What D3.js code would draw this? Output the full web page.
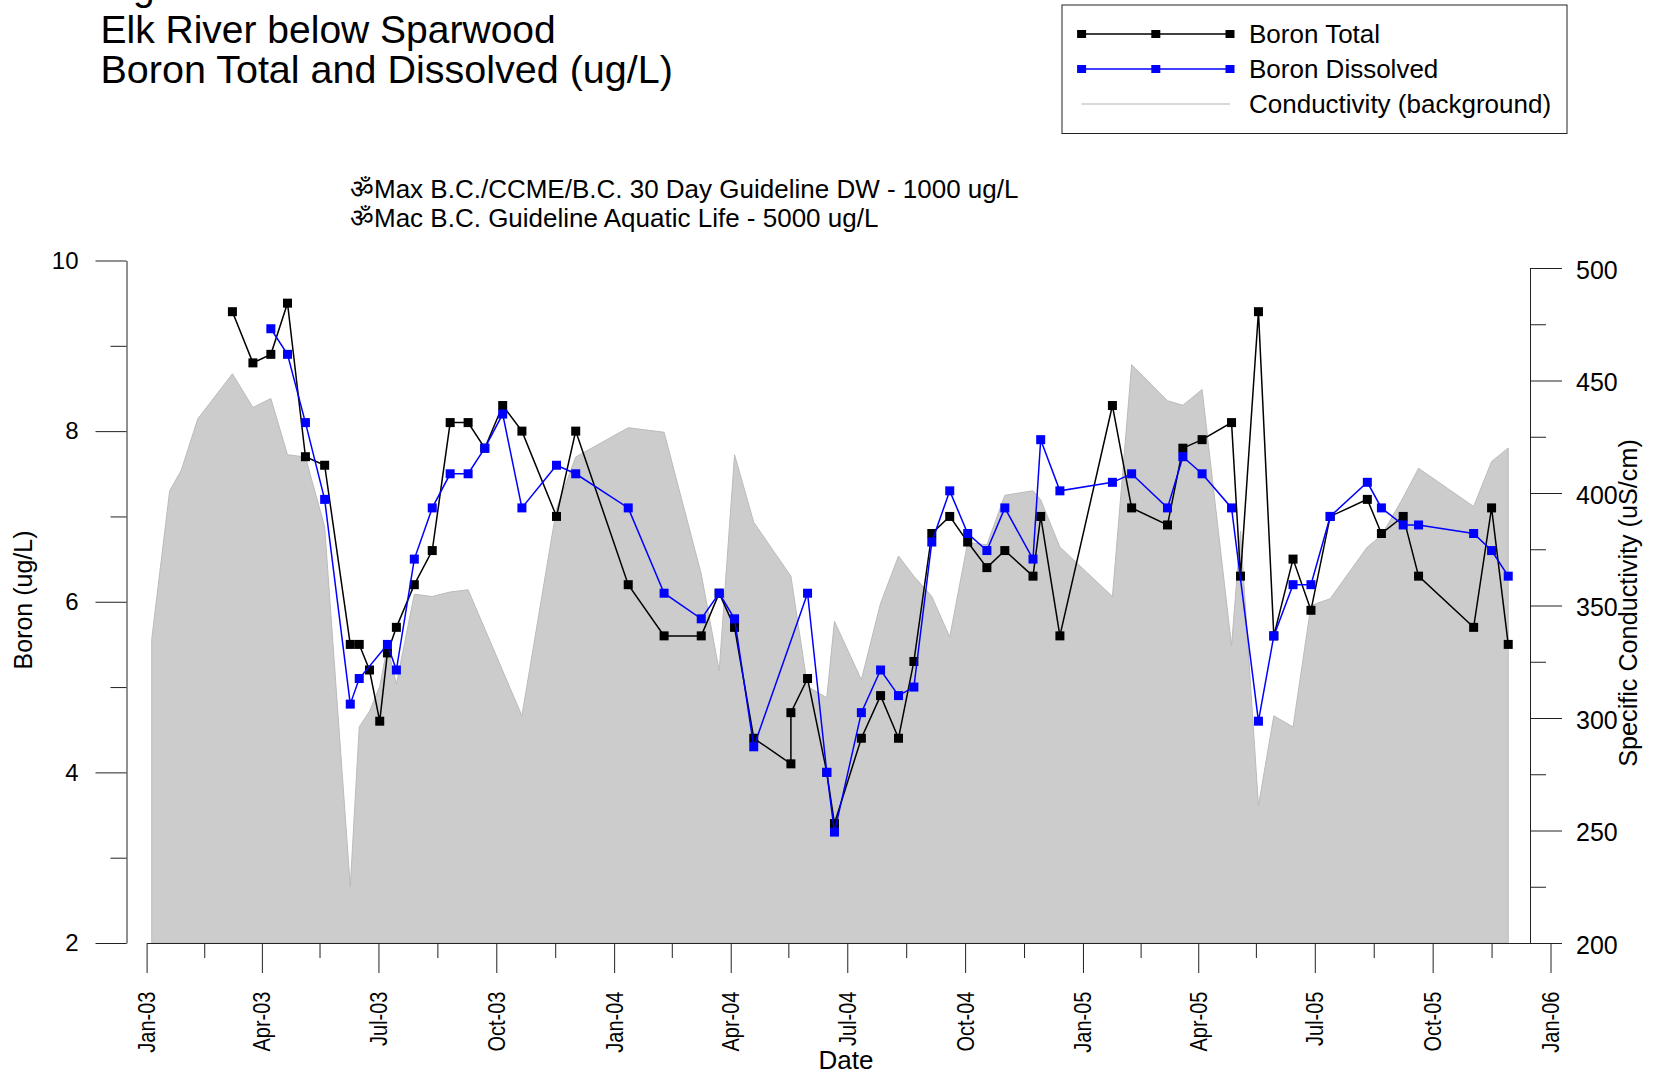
<!DOCTYPE html>
<html>
<head>
<meta charset="utf-8">
<script src="https://cdn.jsdelivr.net/npm/d3@7"></script>
<style>
    body { margin: 0; background: #fff; }
    text { font-family: "Liberation Sans", Arial, sans-serif; fill: #000; }
    .domain, .tick line { stroke: #222; stroke-width: 1; }
</style>
</head>
<body>
<div id="chart"></div>
<script>
const sampleDates = [
    "2003-01-05", "2003-01-19", "2003-01-28", "2003-02-10", "2003-03-09", "2003-03-25", "2003-04-08", "2003-04-21",
    "2003-05-05", "2003-05-20", "2003-06-09", "2003-06-16", "2003-06-24", "2003-07-02", "2003-07-08", "2003-07-15",
    "2003-07-29", "2003-08-12", "2003-08-26", "2003-09-09", "2003-09-22", "2003-10-06", "2003-10-21", "2003-11-17",
    "2003-12-02", "2004-01-12", "2004-02-09", "2004-03-09", "2004-03-23", "2004-04-04", "2004-04-19", "2004-05-18",
    "2004-05-18", "2004-05-31", "2004-06-15", "2004-06-21", "2004-07-12", "2004-07-27", "2004-08-10", "2004-08-22",
    "2004-09-05", "2004-09-19", "2004-10-03", "2004-10-18", "2004-11-01", "2004-11-23", "2004-11-29", "2004-12-14",
    "2005-01-24", "2005-02-08", "2005-03-08", "2005-03-20", "2005-04-04", "2005-04-27", "2005-05-04", "2005-05-18",
    "2005-05-30", "2005-06-14", "2005-06-28", "2005-07-13", "2005-08-11", "2005-08-22", "2005-09-08", "2005-09-20",
    "2005-11-02", "2005-11-16", "2005-11-29"
];
const boronTotal = [
    null, null, null, null, 9.4, 8.8, 8.9, 9.5,
    7.7, 7.6, 5.5, 5.5, 5.2, 4.6, 5.4, 5.7,
    6.2, 6.6, 8.1, 8.1, 7.8, 8.3, 8.0, 7.0,
    8.0, 6.2, 5.6, 5.6, 6.1, 5.7, 4.4, 4.1,
    4.7, 5.1, 4.0, 3.4, 4.4, 4.9, 4.4, 5.3,
    6.8, 7.0, 6.7, 6.4, 6.6, 6.3, 7.0, 5.6,
    8.3, 7.1, 6.9, 7.8, 7.9, 8.1, 6.3, 9.4,
    5.6, 6.5, 5.9, 7.0, 7.2, 6.8, 7.0, 6.3,
    5.7, 7.1, 5.5
];
const boronDissolved = [
    null, null, null, null, null, null, 9.2, 8.9,
    8.1, 7.2, 4.8, 5.1, null, null, 5.5, 5.2,
    6.5, 7.1, 7.5, 7.5, 7.8, 8.2, 7.1, 7.6,
    7.5, 7.1, 6.1, 5.8, 6.1, 5.8, 4.3, null,
    null, 6.1, 4.0, 3.3, 4.7, 5.2, 4.9, 5.0,
    6.7, 7.3, 6.8, 6.6, 7.1, 6.5, 7.9, 7.3,
    7.4, 7.5, 7.1, 7.7, 7.5, 7.1, null, 4.6,
    5.6, 6.2, 6.2, 7.0, 7.4, 7.1, 6.9, 6.9,
    6.8, 6.6, 6.3
];
const conductivity = [
    335, 401, 410, 433, 453, 438, 442, 417,
    416, 385, 225, 296, 303, 314, 332, 315,
    355, 354, 356, 357, null, null, 301, 393,
    416, 429, 427, 364, 321, 417, 387, 363,
    null, 314, 309, 343, 317, 351, 372, 363,
    354, 336, 378, 377, 399, 401, 397, 376,
    354, 457, 441, 439, 446, 332, 383, 261,
    301, 296, 350, 353, 376, 381, 398, 411,
    394, 414, 420
];

const quarterTicks = [
    "2003-01-01", "2003-04-01", "2003-07-01", "2003-10-01", "2004-01-01", "2004-04-01", "2004-07-01",
    "2004-10-01", "2005-01-01", "2005-04-01", "2005-07-01", "2005-10-01", "2006-01-01"
];
const midQuarterTicks = [
    "2003-02-15", "2003-05-16", "2003-08-16", "2003-11-16", "2004-02-15", "2004-05-16",
    "2004-08-16", "2004-11-16", "2005-02-15", "2005-05-16", "2005-08-16", "2005-11-16"
];
const boronTicks = [2, 4, 6, 8, 10];
const boronMinorTicks = [3, 5, 7, 9];
const condTicks = [200, 250, 300, 350, 400, 450, 500];
const condMinorTicks = [225, 275, 325, 375, 425, 475];

const titleLines = ["Figure", "Elk River below Sparwood", "Boron Total and Dissolved (ug/L)"];
const guidelineLines = [
    "\u0950Max B.C./CCME/B.C. 30 Day Guideline DW - 1000 ug/L",
    "\u0950Mac B.C. Guideline Aquatic Life - 5000 ug/L"
];
const legendEntries = [
    { label: "Boron Total", color: "#000", markers: true },
    { label: "Boron Dissolved", color: "#0000ff", markers: true },
    { label: "Conductivity (background)", color: "#ccc", markers: false }
];

const parseDate = d3.utcParse("%Y-%m-%d");
const formatQuarter = d3.utcFormat("%b-%y");

const svg = d3.select("#chart")
    .append("svg")
    .attr("width", 1655)
    .attr("height", 1075)
    .style("display", "block");

const xScale = d3.scaleUtc()
    .domain([parseDate("2003-01-01"), parseDate("2006-01-01")])
    .range([146.6, 1550.5]);
const boronScale = d3.scaleLinear().domain([2, 10]).range([943, 260.5]);
const condScale = d3.scaleLinear().domain([200, 500]).range([943, 268]);

const rows = sampleDates.map((d, i) => ({
    date: parseDate(d),
    total: boronTotal[i],
    dissolved: boronDissolved[i],
    cond: conductivity[i]
}));

// conductivity goes in the background
svg.append("path")
    .datum(rows.filter(d => d.cond !== null))
    .attr("fill", "#ccc")
    .attr("stroke", "#bbb")
    .attr("stroke-width", 1)
    .attr("d", d3.area()
        .x(d => xScale(d.date))
        .y0(condScale(200))
        .y1(d => condScale(d.cond))
    );

function drawSeries(key, color) {
    const points = rows.filter(d => d[key] !== null);
    svg.append("path")
        .datum(points)
        .attr("fill", "none")
        .attr("stroke", color)
        .attr("stroke-width", 1.5)
        .attr("d", d3.line()
            .x(d => xScale(d.date))
            .y(d => boronScale(d[key]))
        );
    svg.selectAll(`.marker-${key}`)
        .data(points)
        .enter().append("rect")
        .attr("class", `marker-${key}`)
        .attr("x", d => xScale(d.date) - 4.5)
        .attr("y", d => boronScale(d[key]) - 4.5)
        .attr("width", 9)
        .attr("height", 9)
        .attr("fill", color);
}
drawSeries("total", "#000");
drawSeries("dissolved", "#0000ff");

function styleAxisText(g, size) {
    g.selectAll("text").attr("font-size", size).attr("fill", "#000");
}

// left axis
svg.append("g")
    .attr("transform", "translate(126.5,0)")
    .call(d3.axisLeft(boronScale).tickValues(boronTicks).tickSize(31).tickSizeOuter(0).tickPadding(17).tickFormat(d3.format("d")))
    .call(styleAxisText, 24);
svg.append("g")
    .attr("transform", "translate(126.5,0)")
    .call(d3.axisLeft(boronScale).tickValues(boronMinorTicks).tickSize(16).tickSizeOuter(0).tickFormat(""))
    .call(g => g.select(".domain").remove());

// right axis
svg.append("g")
    .attr("transform", "translate(1530,0)")
    .call(d3.axisRight(condScale).tickValues(condTicks).tickSize(32).tickSizeOuter(0).tickPadding(14).tickFormat(d3.format("d")))
    .call(styleAxisText, 25)
    .call(g => g.selectAll("text").attr("dy", "0.4em"));
svg.append("g")
    .attr("transform", "translate(1530,0)")
    .call(d3.axisRight(condScale).tickValues(condMinorTicks).tickSize(16).tickSizeOuter(0).tickFormat(""))
    .call(g => g.select(".domain").remove());

// date axis, labels are a bit squeezed along their length in the original
svg.append("g")
    .attr("transform", "translate(0,943)")
    .call(d3.axisBottom(xScale).tickValues(quarterTicks.map(parseDate)).tickSize(30).tickSizeOuter(0).tickFormat(formatQuarter))
    .call(styleAxisText, 23)
    .call(g => g.selectAll("text")
        .attr("transform", "translate(8,48.5) rotate(-90) scale(0.87,1)")
        .attr("x", 0)
        .attr("y", 0)
        .attr("dy", 0)
        .attr("text-anchor", "end"));
svg.append("g")
    .attr("transform", "translate(0,943)")
    .call(d3.axisBottom(xScale).tickValues(midQuarterTicks.map(parseDate)).tickSize(15).tickSizeOuter(0).tickFormat(""))
    .call(g => g.select(".domain").remove());

// axis titles
svg.append("text")
    .attr("transform", "translate(32,600) rotate(-90)")
    .attr("text-anchor", "middle")
    .attr("font-size", 25)
    .text("Boron (ug/L)");
svg.append("text")
    .attr("transform", "translate(1637,603) rotate(-90)")
    .attr("text-anchor", "middle")
    .attr("font-size", 25.2)
    .text("Specific Conductivity (uS/cm)");
svg.append("text")
    .attr("x", 846)
    .attr("y", 1069)
    .attr("text-anchor", "middle")
    .attr("font-size", 26)
    .text("Date");

// title block, first line runs off the top of the page like the original
svg.selectAll(".title-line")
    .data(titleLines)
    .enter().append("text")
    .attr("class", "title-line")
    .attr("x", 100.5)
    .attr("y", (d, i) => i ? 3 + i * 40 : 0)
    .attr("font-size", (d, i) => i === 2 ? 39.5 : 39)
    .text(d => d);

svg.selectAll(".guideline-line")
    .data(guidelineLines)
    .enter().append("text")
    .attr("class", "guideline-line")
    .attr("x", 350)
    .attr("y", (d, i) => 198 + i * 29)
    .attr("font-size", 26)
    .text(d => d);

// legend
const legend = svg.append("g");
legend.append("rect")
    .attr("x", 1062)
    .attr("y", 5)
    .attr("width", 505)
    .attr("height", 128.5)
    .attr("fill", "#fff")
    .attr("stroke", "#222")
    .attr("stroke-width", 1);

const legendRow = d3.scalePoint().domain(legendEntries.map(d => d.label)).range([34, 104]);
const legendMarkX = d3.scalePoint().domain([0, 1, 2]).range([1081.6, 1230]);

legendEntries.forEach(entry => {
    const y = legendRow(entry.label);
    legend.append("line")
        .attr("x1", legendMarkX(0))
        .attr("x2", legendMarkX(2))
        .attr("y1", y)
        .attr("y2", y)
        .attr("stroke", entry.color)
        .attr("stroke-width", 1.5);
    if (entry.markers) {
        legend.selectAll(null)
            .data(legendMarkX.domain())
            .enter().append("rect")
            .attr("x", d => legendMarkX(d) - 4.5)
            .attr("y", y - 4)
            .attr("width", 9)
            .attr("height", 8)
            .attr("fill", entry.color);
    }
    legend.append("text")
        .attr("x", 1249)
        .attr("y", y + 9)
        .attr("font-size", 26)
        .text(entry.label);
});
</script>
</body>
</html>
